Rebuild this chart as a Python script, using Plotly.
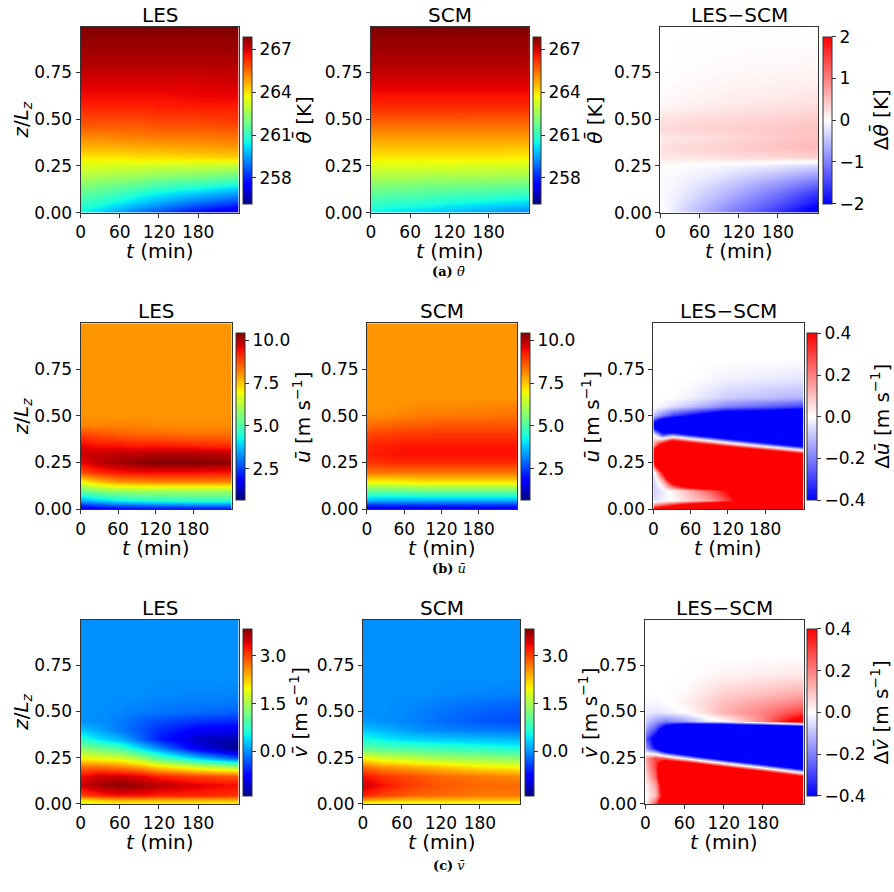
import plotly.graph_objects as go

W, H = 894, 892

# ---------------- data ----------------
T = [0, 15, 30, 60, 90, 120, 180, 240]                       # minutes
Z = [0, 0.02, 0.05, 0.1, 0.15, 0.2, 0.25, 0.3, 0.35, 0.4, 0.45,
     0.5, 0.55, 0.6, 0.7, 0.8, 1.0]                            # z/Lz

theta_les = [
    [260.5, 260.3, 260.0, 259.5, 259.0, 258.5, 257.7, 257.0],
    [260.7, 260.5, 260.3, 259.8, 259.3, 258.9, 258.1, 257.4],
    [261.0, 260.9, 260.7, 260.3, 259.9, 259.5, 258.8, 258.2],
    [261.6, 261.5, 261.4, 261.1, 260.7, 260.4, 259.9, 259.4],
    [262.2, 262.1, 262.0, 261.8, 261.6, 261.3, 261.0, 260.6],
    [262.8, 262.8, 262.7, 262.6, 262.5, 262.3, 262.1, 261.8],
    [263.4, 263.4, 263.4, 263.3, 263.3, 263.2, 263.1, 263.0],
    [264.0, 264.0, 264.0, 264.0, 264.1, 264.1, 264.2, 264.3],
    [264.6, 264.6, 264.6, 264.6, 264.7, 264.7, 264.8, 264.9],
    [265.1, 265.1, 265.1, 265.2, 265.2, 265.3, 265.3, 265.4],
    [265.6, 265.6, 265.6, 265.6, 265.6, 265.7, 265.7, 265.8],
    [266.0, 266.0, 266.0, 266.0, 266.0, 266.1, 266.1, 266.2],
    [266.3, 266.3, 266.3, 266.3, 266.3, 266.4, 266.4, 266.4],
    [266.6, 266.6, 266.6, 266.6, 266.6, 266.6, 266.7, 266.7],
    [267.0, 267.0, 267.0, 267.0, 267.0, 267.0, 267.0, 267.1],
    [267.4, 267.4, 267.4, 267.4, 267.4, 267.4, 267.4, 267.4],
    [267.9, 267.9, 267.9, 267.9, 267.9, 267.9, 267.9, 267.9],
]
theta_scm = [
    [260.5, 260.4, 260.3, 260.2, 260.0, 259.9, 259.6, 259.2],
    [260.7, 260.6, 260.5, 260.4, 260.3, 260.1, 259.8, 259.5],
    [261.0, 261.0, 260.9, 260.8, 260.7, 260.5, 260.3, 260.1],
    [261.6, 261.6, 261.5, 261.5, 261.4, 261.3, 261.2, 261.0],
    [262.2, 262.2, 262.1, 262.1, 262.0, 262.0, 261.9, 261.8],
    [262.8, 262.8, 262.8, 262.8, 262.7, 262.7, 262.7, 262.6],
    [263.4, 263.4, 263.4, 263.4, 263.4, 263.4, 263.3, 263.3],
    [264.0, 264.0, 264.0, 264.0, 264.0, 264.0, 264.0, 263.9],
    [264.4, 264.4, 264.4, 264.4, 264.4, 264.4, 264.4, 264.4],
    [264.9, 264.9, 264.9, 264.9, 264.9, 264.9, 264.9, 264.9],
    [265.3, 265.3, 265.3, 265.3, 265.3, 265.3, 265.3, 265.3],
    [265.8, 265.8, 265.8, 265.8, 265.8, 265.8, 265.75, 265.75],
    [266.2, 266.2, 266.2, 266.2, 266.2, 266.2, 266.2, 266.2],
    [266.5, 266.5, 266.5, 266.5, 266.5, 266.5, 266.5, 266.5],
    [267.0, 267.0, 267.0, 267.0, 267.0, 267.0, 267.0, 267.0],
    [267.4, 267.4, 267.4, 267.4, 267.4, 267.4, 267.4, 267.4],
    [267.9, 267.9, 267.9, 267.9, 267.9, 267.9, 267.9, 267.9],
]
theta_diff = [
    [0.0, -0.1, -0.25, -0.5, -0.8, -1.05, -1.6, -2.2],
    [0.0, -0.12, -0.28, -0.52, -0.78, -1.0, -1.5, -2.1],
    [-0.02, -0.1, -0.22, -0.45, -0.68, -0.9, -1.35, -1.9],
    [-0.04, -0.08, -0.15, -0.32, -0.5, -0.7, -1.1, -1.6],
    [-0.05, -0.06, -0.1, -0.22, -0.36, -0.52, -0.85, -1.2],
    [-0.04, -0.04, -0.06, -0.12, -0.2, -0.32, -0.55, -0.8],
    [-0.01, -0.01, -0.02, -0.03, -0.06, -0.1, -0.2, -0.35],
    [0.2, 0.2, 0.2, 0.22, 0.25, 0.28, 0.32, 0.38],
    [0.25, 0.28, 0.3, 0.33, 0.36, 0.4, 0.48, 0.55],
    [0.15, 0.18, 0.2, 0.24, 0.28, 0.33, 0.42, 0.5],
    [0.3, 0.3, 0.32, 0.34, 0.36, 0.38, 0.42, 0.48],
    [0.22, 0.24, 0.26, 0.28, 0.3, 0.32, 0.36, 0.4],
    [0.1, 0.12, 0.14, 0.17, 0.2, 0.22, 0.26, 0.3],
    [0.05, 0.06, 0.08, 0.1, 0.12, 0.15, 0.18, 0.22],
    [0.0, 0.02, 0.03, 0.05, 0.07, 0.08, 0.1, 0.12],
    [0.0, 0.0, 0.01, 0.02, 0.03, 0.04, 0.05, 0.06],
    [0.0, 0.0, 0.0, 0.0, 0.0, 0.0, 0.0, 0.0],
]

u_les = [
    [1.3, 1.4, 1.5, 1.6, 1.7, 1.8, 1.8, 1.8],
    [2.2, 2.3, 2.5, 2.7, 2.8, 2.9, 3.0, 3.0],
    [3.5, 3.7, 3.9, 4.2, 4.4, 4.5, 4.6, 4.6],
    [5.3, 5.5, 5.7, 5.9, 6.0, 6.0, 6.0, 6.0],
    [7.0, 7.3, 7.6, 8.0, 8.1, 8.2, 8.2, 8.2],
    [8.7, 8.9, 9.1, 9.3, 9.4, 9.4, 9.4, 9.3],
    [9.5, 9.7, 9.9, 10.1, 10.3, 10.4, 10.4, 10.3],
    [9.8, 9.8, 9.8, 9.9, 9.9, 10.0, 10.0, 9.9],
    [9.5, 9.4, 9.3, 9.3, 9.2, 9.2, 9.1, 9.0],
    [8.9, 8.8, 8.7, 8.6, 8.5, 8.5, 8.4, 8.4],
    [8.2, 8.2, 8.2, 8.2, 8.2, 8.1, 8.1, 8.1],
    [8.0, 8.0, 8.0, 8.0, 8.0, 8.0, 8.0, 8.0],
    [8.0, 8.0, 8.0, 8.0, 8.0, 8.0, 8.0, 8.0],
    [8.0, 8.0, 8.0, 8.0, 8.0, 8.0, 8.0, 8.0],
    [8.0, 8.0, 8.0, 8.0, 8.0, 8.0, 8.0, 8.0],
    [8.0, 8.0, 8.0, 8.0, 8.0, 8.0, 8.0, 8.0],
    [8.0, 8.0, 8.0, 8.0, 8.0, 8.0, 8.0, 8.0],
]
u_scm = [
    [1.2, 1.2, 1.2, 1.2, 1.2, 1.2, 1.2, 1.2],
    [2.2, 2.2, 2.2, 2.2, 2.2, 2.2, 2.2, 2.2],
    [3.6, 3.5, 3.5, 3.5, 3.5, 3.5, 3.5, 3.5],
    [5.3, 5.3, 5.3, 5.3, 5.4, 5.4, 5.4, 5.4],
    [7.0, 7.0, 7.0, 7.1, 7.2, 7.2, 7.2, 7.2],
    [8.3, 8.3, 8.3, 8.3, 8.3, 8.3, 8.3, 8.3],
    [9.0, 9.0, 9.1, 9.1, 9.1, 9.1, 9.1, 9.1],
    [9.2, 9.3, 9.3, 9.4, 9.4, 9.4, 9.4, 9.4],
    [9.1, 9.2, 9.2, 9.3, 9.3, 9.3, 9.3, 9.3],
    [8.8, 8.9, 8.9, 9.0, 9.0, 9.0, 9.0, 9.0],
    [8.4, 8.5, 8.5, 8.6, 8.6, 8.7, 8.7, 8.7],
    [8.1, 8.1, 8.1, 8.2, 8.3, 8.3, 8.3, 8.4],
    [8.0, 8.0, 8.0, 8.05, 8.1, 8.1, 8.15, 8.2],
    [8.0, 8.0, 8.0, 8.0, 8.0, 8.0, 8.0, 8.0],
    [8.0, 8.0, 8.0, 8.0, 8.0, 8.0, 8.0, 8.0],
    [8.0, 8.0, 8.0, 8.0, 8.0, 8.0, 8.0, 8.0],
    [8.0, 8.0, 8.0, 8.0, 8.0, 8.0, 8.0, 8.0],
]
u_diff = [
    [0.5, 0.6, 0.8, 1.0, 1.2, 1.2, 1.2, 1.2],
    [0.2, 0.3, 0.4, 0.6, 0.8, 1.0, 1.2, 1.2],
    [-0.05, -0.02, 0.0, 0.08, 0.15, 0.3, 0.8, 1.2],
    [-0.08, -0.03, 0.02, 0.12, 0.25, 0.4, 1.0, 1.2],
    [-0.08, 0.1, 0.5, 1.0, 1.2, 1.2, 1.2, 1.2],
    [-0.05, 0.4, 1.0, 1.2, 1.2, 1.2, 1.2, 1.2],
    [0.4, 1.0, 1.2, 1.4, 1.6, 1.8, 1.6, 1.2],
    [0.6, 1.0, 1.8, 1.6, 1.4, 1.2, 0.8, 0.4],
    [0.15, 0.5, 0.8, 0.6, 0.4, 0.2, -0.2, -0.6],
    [0.0, -0.3, -0.2, -0.4, -0.6, -0.8, -1.2, -1.6],
    [-0.5, -0.8, -1.0, -1.4, -1.6, -1.8, -2.2, -2.6],
    [-0.1, -0.2, -0.3, -0.4, -0.5, -0.6, -0.6, -0.7],
    [0.0, -0.02, -0.05, -0.1, -0.15, -0.2, -0.25, -0.3],
    [0.0, 0.0, 0.0, -0.02, -0.05, -0.08, -0.1, -0.12],
    [0.0, 0.0, 0.0, 0.0, -0.01, -0.02, -0.03, -0.04],
    [0.0, 0.0, 0.0, 0.0, 0.0, 0.0, 0.0, 0.0],
    [0.0, 0.0, 0.0, 0.0, 0.0, 0.0, 0.0, 0.0],
]

v_les = [
    [1.7, 1.8, 1.8, 1.9, 1.9, 1.9, 1.9, 1.9],
    [2.1, 2.2, 2.3, 2.4, 2.4, 2.4, 2.4, 2.4],
    [3.0, 3.1, 3.2, 3.3, 3.3, 3.2, 3.2, 3.1],
    [3.5, 3.6, 3.7, 3.8, 3.7, 3.6, 3.4, 3.3],
    [3.3, 3.4, 3.5, 3.5, 3.4, 3.2, 3.0, 2.9],
    [2.8, 2.8, 2.8, 2.7, 2.5, 2.2, 1.8, 1.5],
    [2.0, 1.95, 1.9, 1.8, 1.5, 1.0, 0.3, -0.3],
    [1.3, 1.2, 1.1, 0.9, 0.4, 0.0, -0.9, -1.35],
    [0.7, 0.55, 0.4, 0.2, -0.2, -0.6, -1.1, -1.2],
    [0.3, 0.2, 0.1, -0.1, -0.3, -0.5, -0.8, -0.9],
    [0.0, 0.0, -0.02, -0.1, -0.25, -0.35, -0.5, -0.55],
    [0.0, 0.0, 0.0, -0.05, -0.1, -0.15, -0.2, -0.25],
    [0.0, 0.0, 0.0, -0.02, -0.05, -0.08, -0.1, -0.12],
    [0.0, 0.0, 0.0, 0.0, 0.0, -0.02, -0.05, -0.05],
    [0.0, 0.0, 0.0, 0.0, 0.0, 0.0, 0.0, 0.0],
    [0.0, 0.0, 0.0, 0.0, 0.0, 0.0, 0.0, 0.0],
    [0.0, 0.0, 0.0, 0.0, 0.0, 0.0, 0.0, 0.0],
]
v_scm = [
    [1.7, 1.7, 1.7, 1.7, 1.7, 1.7, 1.7, 1.7],
    [2.5, 2.4, 2.4, 2.3, 2.3, 2.3, 2.3, 2.3],
    [3.2, 3.1, 3.0, 2.9, 2.8, 2.8, 2.7, 2.7],
    [3.5, 3.4, 3.3, 3.1, 3.0, 2.9, 2.8, 2.8],
    [3.3, 3.2, 3.1, 3.0, 2.9, 2.8, 2.7, 2.6],
    [2.8, 2.7, 2.6, 2.5, 2.4, 2.3, 2.1, 2.0],
    [2.0, 1.9, 1.8, 1.7, 1.6, 1.5, 1.4, 1.3],
    [1.0, 1.0, 0.95, 0.9, 0.85, 0.8, 0.7, 0.6],
    [0.6, 0.55, 0.5, 0.4, 0.35, 0.3, 0.25, 0.2],
    [0.3, 0.25, 0.2, 0.1, 0.0, -0.05, -0.1, -0.15],
    [0.05, 0.03, 0.0, -0.05, -0.1, -0.18, -0.3, -0.35],
    [0.0, 0.0, 0.0, -0.03, -0.08, -0.15, -0.25, -0.3],
    [0.0, 0.0, 0.0, -0.02, -0.05, -0.1, -0.15, -0.2],
    [0.0, 0.0, 0.0, 0.0, 0.0, -0.02, -0.05, -0.08],
    [0.0, 0.0, 0.0, 0.0, 0.0, 0.0, 0.0, 0.0],
    [0.0, 0.0, 0.0, 0.0, 0.0, 0.0, 0.0, 0.0],
    [0.0, 0.0, 0.0, 0.0, 0.0, 0.0, 0.0, 0.0],
]
v_diff = [
    [0.0, 0.3, 0.8, 1.5, 2.0, 2.0, 2.0, 2.0],
    [0.0, 0.2, 0.7, 1.5, 2.0, 2.0, 2.0, 2.0],
    [0.0, 0.1, 0.6, 1.5, 2.0, 2.0, 2.0, 2.0],
    [0.02, 0.15, 0.7, 1.8, 2.5, 2.5, 2.5, 2.5],
    [0.05, 0.25, 0.9, 1.98, 1.71, 1.45, 0.93, 0.4],
    [0.1, 0.3, 0.9, 0.98, 0.71, 0.45, -0.07, -0.6],
    [0.15, 0.3, 0.24, -0.02, -0.29, -0.55, -1.07, -1.6],
    [-0.15, -0.4, -0.76, -1.02, -1.29, -1.55, -2.07, -2.6],
    [-0.25, -0.5, -1.0, -1.2, -1.5, -1.8, -2.2, -2.6],
    [-0.15, -0.3, -0.6, -1.0, -1.2, -1.2, -1.2, -1.2],
    [-0.08, -0.15, -0.2, -0.15, -0.05, 0.0, 0.2, 0.5],
    [-0.03, -0.04, -0.03, 0.0, 0.05, 0.12, 0.2, 0.3],
    [-0.01, -0.01, 0.0, 0.02, 0.06, 0.1, 0.15, 0.2],
    [0.0, 0.0, 0.0, 0.01, 0.04, 0.07, 0.1, 0.13],
    [0.0, 0.0, 0.0, 0.0, 0.01, 0.02, 0.03, 0.04],
    [0.0, 0.0, 0.0, 0.0, 0.0, 0.0, 0.0, 0.0],
    [0.0, 0.0, 0.0, 0.0, 0.0, 0.0, 0.0, 0.0],
]

x_ticks = [0, 60, 120, 180]
y_ticks = [0, 0.25, 0.5, 0.75]
y_ticklabels = ["0.00", "0.25", "0.50", "0.75"]
col_titles = ["LES", "SCM", "LES\u2212SCM"]
captions = ["<b>(a)</b> <i>\u03b8\u0304</i>", "<b>(b)</b> <i>u\u0304</i>", "<b>(c)</b> <i>v\u0304</i>"]

# ---------------- colormaps ----------------
def jet_scale():
    red = [(0, 0), (0.35, 0), (0.66, 1), (0.89, 1), (1, 0.5)]
    green = [(0, 0), (0.125, 0), (0.375, 1), (0.64, 1), (0.91, 0), (1, 0)]
    blue = [(0, 0.5), (0.11, 1), (0.34, 1), (0.65, 0), (1, 0)]

    def interp(seg, x):
        for (x0, y0), (x1, y1) in zip(seg[:-1], seg[1:]):
            if x0 <= x <= x1:
                return y0 + (y1 - y0) * (x - x0) / (x1 - x0) if x1 > x0 else y1
        return seg[-1][1]
    pts = sorted(set([p for s in (red, green, blue) for p, _ in s]))
    return [[p, "rgb(%d,%d,%d)" % tuple(round(255 * interp(s, p)) for s in (red, green, blue))]
            for p in pts]

JET = jet_scale()
BWR = [[0, "rgb(0,0,255)"], [0.5, "rgb(255,255,255)"], [1, "rgb(255,0,0)"]]

FONT = "DejaVu Sans"

rows = [
    dict(fields=[theta_les, theta_scm, theta_diff],
         ranges=[(256.2, 267.9), (256.2, 267.9), (-2, 2)],
         ticks=[[258, 261, 264, 267], [258, 261, 264, 267], [-2, -1, 0, 1, 2]],
         fmt=["d", "d", "d"],
         cbt=["<i>\u03b8\u0304</i> [K]", "<i>\u03b8\u0304</i> [K]", "\u0394<i>\u03b8\u0304</i> [K]"]),
    dict(fields=[u_les, u_scm, u_diff],
         ranges=[(0.65, 10.42), (0.65, 10.42), (-0.4, 0.4)],
         ticks=[[2.5, 5.0, 7.5, 10.0], [2.5, 5.0, 7.5, 10.0], [-0.4, -0.2, 0.0, 0.2, 0.4]],
         fmt=[".1f", ".1f", ".1f"],
         cbt=["<i>u\u0304</i> [m s<sup>\u22121</sup>]", "<i>u\u0304</i> [m s<sup>\u22121</sup>]",
              "\u0394<i>u\u0304</i> [m s<sup>\u22121</sup>]"]),
    dict(fields=[v_les, v_scm, v_diff],
         ranges=[(-1.40, 3.85), (-1.40, 3.85), (-0.4, 0.4)],
         ticks=[[0.0, 1.5, 3.0], [0.0, 1.5, 3.0], [-0.4, -0.2, 0.0, 0.2, 0.4]],
         fmt=[".1f", ".1f", ".1f"],
         cbt=["<i>v\u0304</i> [m s<sup>\u22121</sup>]", "<i>v\u0304</i> [m s<sup>\u22121</sup>]",
              "\u0394<i>v\u0304</i> [m s<sup>\u22121</sup>]"]),
]

# pixel geometry: plot (x0,x1,y0,y1), colorbar (cx0,cx1,cy0,cy1), colorbar-title x
GEOM = [
    [(76, 235, 27, 215, 239, 248, 37, 206, 300), (368, 527, 27, 215, 531, 539, 37, 206, 593),
     (659, 818, 27, 215, 823, 832, 37, 206, 880)],
    [(76, 228, 327, 515, 232, 241, 337, 506, 298), (364, 515, 327, 515, 519, 528, 337, 506, 589),
     (652, 803, 327, 515, 807, 817, 337, 506, 880)],
    [(76, 235, 627, 813, 239, 248, 636, 805, 296), (360, 518, 627, 813, 523, 532, 636, 805, 587),
     (644, 803, 627, 813, 807, 817, 636, 805, 880)],
]
CAPTION_Y = [275, 575, 875]

px = lambda x: x / W
py = lambda y: 1 - y / H

fig = go.Figure()
annotations = []
layout = {}
k = 0
for r, row in enumerate(rows):
    for c in range(3):
        k += 1
        x0, x1, y0, y1, cx0, cx1, cy0, cy1, tx = GEOM[r][c]
        xa = "x" if k == 1 else "x%d" % k
        ya = "y" if k == 1 else "y%d" % k
        zmin, zmax = row["ranges"][c]
        fig.add_trace(go.Heatmap(
            x=T, y=Z, z=row["fields"][c], zsmooth="best",
            colorscale=BWR if c == 2 else JET, zmin=zmin, zmax=zmax,
            xaxis=xa, yaxis=ya, hoverinfo="skip",
            colorbar=dict(
                x=px(cx0), xanchor="left", xpad=0, ypad=0,
                y=py((cy0 + cy1) / 2), yanchor="middle",
                len=(cy1 - cy0) / H, lenmode="fraction",
                thickness=cx1 - cx0, thicknessmode="pixels",
                outlinewidth=1, outlinecolor="#333333",
                tickmode="array", tickvals=row["ticks"][c],
                tickformat=row["fmt"][c], ticks="outside", ticklen=4,
                tickwidth=1, tickcolor="#333333",
                tickfont=dict(family=FONT, size=17, color="black"),
            ),
        ))
        axstyle = dict(showline=True, linecolor="#333333", linewidth=1, mirror=True,
                       ticks="outside", ticklen=4, tickwidth=1, tickcolor="#333333",
                       showgrid=False, zeroline=False,
                       tickfont=dict(family=FONT, size=17, color="black"))
        layout["xaxis" if k == 1 else "xaxis%d" % k] = dict(
            domain=[px(x0), px(x1)], anchor=ya, range=[0, 242],
            tickmode="array", tickvals=x_ticks, **axstyle)
        layout["yaxis" if k == 1 else "yaxis%d" % k] = dict(
            domain=[py(y1), py(y0)], anchor=xa, range=[0, 0.995],
            tickmode="array", tickvals=y_ticks, ticktext=y_ticklabels, **axstyle)
        annotations.append(dict(text=col_titles[c], x=px((x0 + x1) / 2), y=py(y0 - 12),
                                xref="paper", yref="paper", showarrow=False,
                                xanchor="center", yanchor="middle",
                                font=dict(family=FONT, size=20, color="black")))
        annotations.append(dict(text="<i>t</i> (min)", x=px((x0 + x1) / 2), y=py(y1 + 39),
                                xref="paper", yref="paper", showarrow=False,
                                xanchor="center", yanchor="middle",
                                font=dict(family=FONT, size=20, color="black")))
        annotations.append(dict(text=row["cbt"][c], x=px(tx), y=py((cy0 + cy1) / 2),
                                xref="paper", yref="paper", showarrow=False, textangle=-90,
                                xanchor="center", yanchor="middle",
                                font=dict(family=FONT, size=20, color="black")))
        if c == 0:
            annotations.append(dict(text="<i>z</i>/<i>L<sub>z</sub></i>", x=px(17),
                                    y=py((y0 + y1) / 2), xref="paper", yref="paper",
                                    showarrow=False, textangle=-90,
                                    xanchor="center", yanchor="middle",
                                    font=dict(family=FONT, size=20, color="black")))
    annotations.append(dict(text=captions[r], x=px(446), y=py(CAPTION_Y[r]),
                            xref="paper", yref="paper", showarrow=False,
                            xanchor="center", yanchor="middle",
                            font=dict(family="DejaVu Serif", size=13, color="black")))

fig.update_layout(width=W, height=H, margin=dict(l=0, r=0, t=0, b=0),
                  paper_bgcolor="white", plot_bgcolor="white",
                  showlegend=False, annotations=annotations, **layout)
fig.write_html("out.html")
